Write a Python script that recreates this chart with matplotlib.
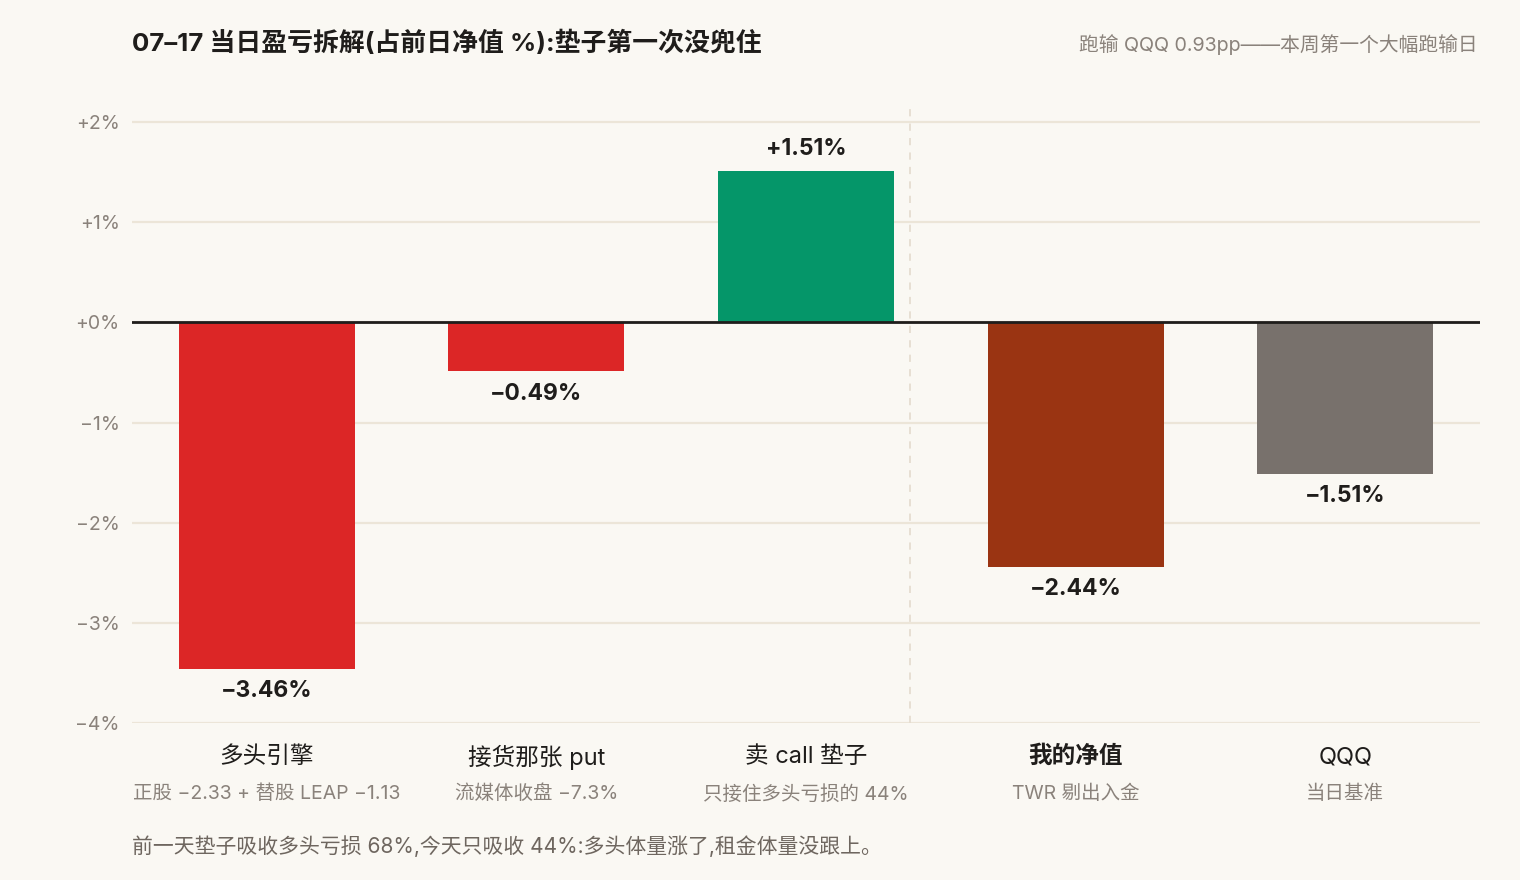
import matplotlib.pyplot as plt
from matplotlib.ticker import FixedLocator

plt.rcParams['font.family'] = ['Inter', 'Noto Sans CJK SC', 'DejaVu Sans']

# 数据
categories = ["多头引擎", "接货那张 put", "卖 call 垫子", "我的净值", "QQQ"]
sublabels = ["正股 −2.33 + 替股 LEAP −1.13", "流媒体收盘 −7.3%", "只接住多头亏损的 44%",
             "TWR 剔出入金", "当日基准"]
values = [-3.46, -0.49, 1.51, -2.44, -1.51]
colors = ["#dc2626", "#dc2626", "#059669", "#9a3412", "#78716c"]
y_ticks = [2, 1, 0, -1, -2, -3, -4]

title = "07–17 当日盈亏拆解(占前日净值 %):垫子第一次没兜住"
subtitle = "跑输 QQQ 0.93pp——本周第一个大幅跑输日"
footnote = "前一天垫子吸收多头亏损 68%,今天只吸收 44%:多头体量涨了,租金体量没跟上。"

BG = "#faf8f3"
GRID = "#ece5d8"
MUTED = "#8a827b"
INK = "#1f1d1b"


def fmt_pct(v, digits=2):
    s = f"{abs(v):.{digits}f}%"
    return ("+" if v >= 0 else "−") + s


fig = plt.figure(figsize=(15.2, 8.8), dpi=100, facecolor=BG)
ax = fig.add_axes([132 / 1520, 1 - 723 / 880, 1348 / 1520, 620 / 880])
ax.set_facecolor(BG)

x = list(range(len(categories)))
ax.bar(x, values, width=0.653, color=colors, zorder=3)

ax.set_xlim(-0.5, len(categories) - 0.5)
ax.set_ylim(-4, 2.19)

for t in y_ticks:
    ax.axhline(t, color=GRID, lw=1.6, zorder=1)
ax.axhline(0, color=INK, lw=2.0, zorder=4)

# 分隔虚线
ax.axvline(2.386, ymin=0, ymax=1, color="#e6ddd0", lw=1.3, ls=(0, (4, 4)), zorder=2)

ax.yaxis.set_major_locator(FixedLocator(y_ticks))
ax.set_yticklabels([("+" if t >= 0 else "−") + f"{abs(t)}%" for t in y_ticks])
ax.tick_params(axis='y', length=0, pad=9, labelsize=14, labelcolor=MUTED)
ax.set_xticks([])
for sp in ax.spines.values():
    sp.set_visible(False)

for i, v in enumerate(values):
    if v >= 0:
        ax.annotate(fmt_pct(v), (i, v), xytext=(0, 8), textcoords='offset points',
                    ha='center', va='bottom', fontsize=16.5, fontweight='bold', color=INK)
    else:
        ax.annotate(fmt_pct(v), (i, v), xytext=(0, -8), textcoords='offset points',
                    ha='center', va='top', fontsize=16.5, fontweight='bold', color=INK)

# 类别标签
for i, (c, s) in enumerate(zip(categories, sublabels)):
    xf = (132 + (i + 0.5) * 1348 / 5) / 1520
    fig.text(xf, 1 - 757 / 880, c, ha='center', va='center', fontsize=17,
             fontweight='bold' if c == "我的净值" else 'normal', color=INK)
    fig.text(xf, 1 - 794 / 880, s, ha='center', va='center', fontsize=14, color=MUTED)

fig.text(132 / 1520, 1 - 43 / 880, title, ha='left', va='center', fontsize=18.6,
         fontweight='bold', color=INK)
fig.text(1478 / 1520, 1 - 45 / 880, subtitle, ha='right', va='center', fontsize=14.2,
         color=MUTED)
fig.text(132 / 1520, 1 - 846 / 880, footnote, ha='left', va='center', fontsize=15,
         color="#6e665f")

fig.savefig("out.png", dpi=100, facecolor=BG)
